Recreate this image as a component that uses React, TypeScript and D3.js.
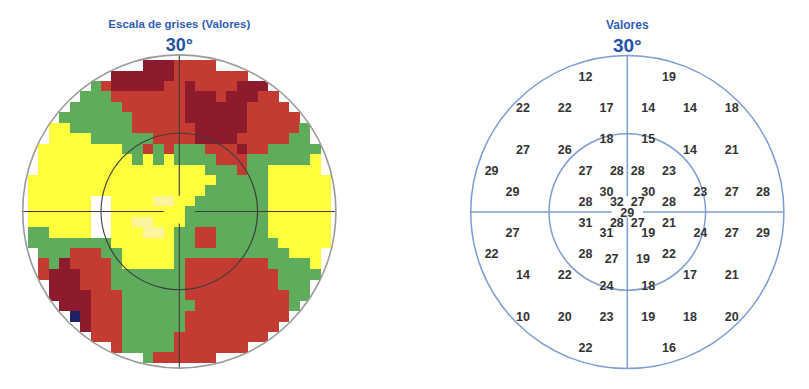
import React from "react";
import * as d3 from "d3";

// ---------- Data ----------
// Grey-scale map (left): rows from +28° (top) to -28° (bottom), 2° cells, each row centred on the vertical meridian.
// Y = yellow, L = light yellow, W = white, G = green, R = red, D = dark red, N = navy
const GRID_ROWS: string[] = [
  "DDDRRRR",
  "DDDDDDRRRRRRR",
  "GRDDDDDRRDRRRRDDD",
  "GGGRRRRRRRDDDRDDDRR",
  "GGGGGRRRRRRDDDDDDRRRR",
  "GGGGGGGRRRRRDDDDDDRRRRR",
  "YYGGGGGGRRRRRRDDDDDRRRRRG",
  "YYYYGGGGGGRRRRDDDDRRRRRGG",
  "YYYYYYYYGGRGRGGGRRRDRRGGGGG",
  "YYYYYYYYYGYGYGGGGRRRGGGGGGY",
  "YYYYYYYYYYYYYYYYGGGRGGYYYYY",
  "YYYYYYYYYYYYYYYYYYGGGGGYYYYYY",
  "YYYYYYYYYYYYYYYYYGGGGGGYYYYYY",
  "YYYYYYWWYYYYLLYYGGGGGGGYYYYYY",
  "YYYYYYWWYYYYYYYGGGGGGGGYYYYYY",
  "YYYYYYWWYYLLYYYGGGGGGGGYYYYYY",
  "GGYYYYWWYYYLLYGGRRGGGGGYYYYYY",
  "GGGGGGGGYYYYYYGGRRGGGGGGYYYYY",
  "GGGRRRGGYYYYYGGGGGGGGGGGYYY",
  "RGDRRRRGYYYYYGRRRRRRRRGGGGY",
  "RDDDRRRGGGGGGGRRRRRRRRRGGGG",
  "DDDRRRGGGGGGGRRRRRRRRRGGG",
  "DDDDRRRGGGGGGRRRRRRRRRRGG",
  "DDDRRRGGGGGGGRRRRRRRRRG",
  "NDRRRGGGGGGRRRRRRRRRR",
  "DRRRGGGGGGRRRRRRRRR",
  "RRRGGGGGRRRRRRRRR",
  "RGGGGGRRRRRRR",
  "GRRRRRR",
];
const TOP_ROW_DEG = 28;
const CELL_DEG = 2;

// Numeric values (right): position in degrees (x right, y up) and threshold value
const PT_X: number[] = [
  -8, 8,
  -20, -12, -4, 4, 12, 20,
  -4, 4,
  -20, -12, 12, 20,
  -26, -8, -2, 2, 8,
  -22, -4, 4, 14, 20, 26,
  -8, -2, 2, 8,
  0,
  -8, -2, 2, 8,
  -22, -4, 4, 14, 20, 26,
  -26, -8, 8,
  -3, 3,
  -20, -12, 12, 20,
  -4, 4,
  -20, -12, -4, 4, 12, 20,
  -8, 8,
];
const PT_Y: number[] = [
  26, 26,
  20, 20, 20, 20, 20, 20,
  14, 14,
  12, 12, 12, 12,
  8, 8, 8, 8, 8,
  4, 4, 4, 4, 4, 4,
  2, 2, 2, 2,
  0,
  -2, -2, -2, -2,
  -4, -4, -4, -4, -4, -4,
  -8, -8, -8,
  -9, -9,
  -12, -12, -12, -12,
  -14, -14,
  -20, -20, -20, -20, -20, -20,
  -26, -26,
];
const PT_VAL: number[] = [
  12, 19,
  22, 22, 17, 14, 14, 18,
  18, 15,
  27, 26, 14, 21,
  29, 27, 28, 28, 23,
  29, 30, 30, 23, 27, 28,
  28, 32, 27, 28,
  29,
  31, 28, 27, 21,
  27, 31, 19, 24, 27, 29,
  22, 28, 22,
  27, 19,
  14, 22, 17, 21,
  24, 18,
  10, 20, 23, 19, 18, 20,
  22, 16,
];

const LEFT_TITLE = "Escala de grises (Valores)";
const RIGHT_TITLE = "Valores";
const ECC_LABEL = "30°";
const RINGS_DEG: number[] = [15, 30];
const MAX_DEG = 30;

const CELL_COLORS: Record<string, string> = {
  Y: "#ffff3e",
  L: "#fbf49c",
  G: "#5fad5c",
  R: "#c43c31",
  D: "#8d1b2d",
  N: "#1d2166",
};

const W = 809;
const H = 389;
const RADIUS = 156.6;

function scales(cx: number, cy: number) {
  const x = d3.scaleLinear().domain([-MAX_DEG, MAX_DEG]).range([cx - RADIUS, cx + RADIUS]);
  const y = d3.scaleLinear().domain([-MAX_DEG, MAX_DEG]).range([cy + RADIUS, cy - RADIUS]);
  return { x, y };
}

// gaps: [right, left, top, bottom] inner start (deg) of each spoke
function Crosshair({ x, y, stroke, width, gaps }: any) {
  const segs = [
    [gaps[0], 0, MAX_DEG, 0],
    [-gaps[1], 0, -MAX_DEG, 0],
    [0, gaps[2], 0, MAX_DEG],
    [0, -gaps[3], 0, -MAX_DEG],
  ];
  return (
    <g>
      {segs.map((s, i) => (
        <line key={i} x1={x(s[0])} y1={y(s[1])} x2={x(s[2])} y2={y(s[3])} stroke={stroke} strokeWidth={width} />
      ))}
    </g>
  );
}

function GreyMap() {
  const cx = 179.3;
  const cy = 211.5;
  const { x, y } = scales(cx, cy);
  const cell = x(CELL_DEG) - x(0);
  const rects: React.ReactNode[] = [];
  GRID_ROWS.forEach((row, i) => {
    const rDeg = TOP_ROW_DEG - i * CELL_DEG;
    const half = (row.length - 1) / 2;
    for (let j = 0; j < row.length; j++) {
      const ch = row[j];
      const col = CELL_COLORS[ch];
      if (!col) continue;
      const cDeg = (j - half) * CELL_DEG;
      rects.push(
        <rect
          key={`${i}-${j}`}
          x={x(cDeg - CELL_DEG / 2)}
          y={y(rDeg + CELL_DEG / 2)}
          width={cell + 0.4}
          height={cell + 0.4}
          fill={col}
        />
      );
    }
  });
  const ring = (d: number) => x(d) - x(0);
  return (
    <g>
      <defs>
        <clipPath id="fieldClip">
          <circle cx={cx} cy={cy} r={RADIUS} />
        </clipPath>
      </defs>
      <text x={cx} y={28} textAnchor="middle" fontFamily="Liberation Sans, Arial, sans-serif" fontWeight="bold" fontSize={11.5} fill="#2f5db5">
        {LEFT_TITLE}
      </text>
      <text x={cx} y={51} textAnchor="middle" fontFamily="Liberation Sans, Arial, sans-serif" fontWeight="bold" fontSize={18} fill="#2252aa">
        {ECC_LABEL}
      </text>
      <g clipPath="url(#fieldClip)" shapeRendering="crispEdges">{rects}</g>
      <circle cx={cx} cy={cy} r={ring(RINGS_DEG[0])} fill="none" stroke="#3c3c3c" strokeWidth={1.1} />
      <Crosshair x={x} y={y} stroke="#3c3c3c" width={1.1} gaps={[3, 3, 3, 2.3]} />
      <circle cx={cx} cy={cy} r={ring(RINGS_DEG[1])} fill="none" stroke="#9b9b9b" strokeWidth={1.6} />
    </g>
  );
}

function ValuesMap() {
  const cx = 627.3;
  const cy = 212;
  const { x, y } = scales(cx, cy);
  const ring = (d: number) => x(d) - x(0);
  const blue = "#7c9cd4";
  return (
    <g>
      <text x={cx} y={29} textAnchor="middle" fontFamily="Liberation Sans, Arial, sans-serif" fontWeight="bold" fontSize={12} fill="#2f5db5">
        {RIGHT_TITLE}
      </text>
      <text x={cx} y={52} textAnchor="middle" fontFamily="Liberation Sans, Arial, sans-serif" fontWeight="bold" fontSize={19} fill="#2252aa">
        {ECC_LABEL}
      </text>
      {RINGS_DEG.map((d) => (
        <circle key={d} cx={cx} cy={cy} r={ring(d)} fill="none" stroke={blue} strokeWidth={1.5} />
      ))}
      <Crosshair x={x} y={y} stroke={blue} width={1.5} gaps={[3, 3, 3, 1]} />
      {PT_VAL.map((v, i) => (
        <text
          key={i}
          x={x(PT_X[i])}
          y={y(PT_Y[i])}
          dy="0.36em"
          textAnchor="middle"
          fontFamily="Liberation Sans, Arial, sans-serif"
          fontWeight="bold"
          fontSize={12.5}
          fill="#333333"
        >
          {v}
        </text>
      ))}
    </g>
  );
}

export default function App() {
  return (
    <svg
      width={W}
      height={H}
      viewBox={`0 0 ${W} ${H}`}
      style={{ position: "absolute", left: 0, top: 0, background: "#ffffff" }}
    >
      <rect width={W} height={H} fill="#ffffff" />
      <GreyMap />
      <ValuesMap />
    </svg>
  );
}
